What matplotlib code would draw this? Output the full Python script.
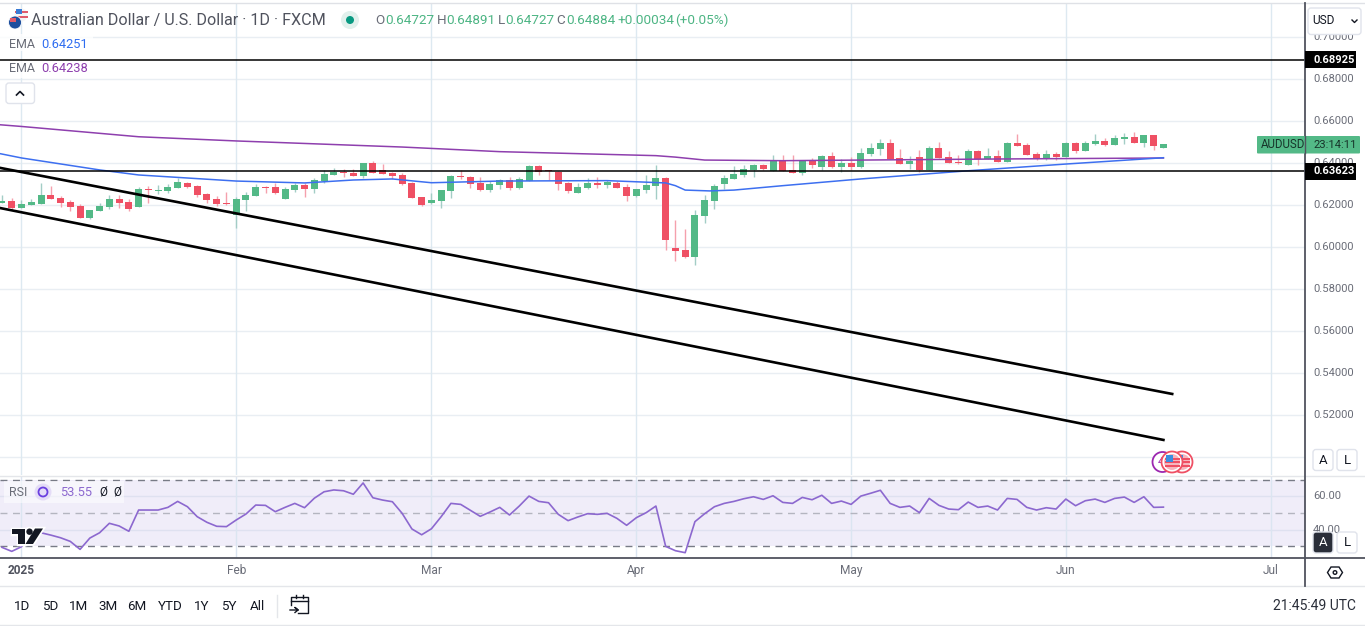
import numpy as np
import matplotlib
matplotlib.use("Agg")
import matplotlib.pyplot as plt
from matplotlib.patches import Rectangle, FancyBboxPatch, Circle, Polygon

plt.rcParams['font.family'] = ['Roboto', 'DejaVu Sans']

# candles, one per trading day, index 0 = 1 Jan 2025
days = np.arange(-2, 118)
opens = [.6210,.6219,.6188,.6200,.6205,.6248,.6232,.6215,.6196,.6139,.6172,.6191,.6229,.6213,.6192,.6277,.6265,.6267,.6283,.6305,.6291,.6253,.6229,.6210,
         .6153,.6224,.6243,.6286,.6286,.6229,.6270,.6295,.6276,.6313,.6343,.6359,.6352,.6338,.6400,.6367,.6352,.6343,.6305,.6239,
         .6210,.6220,.6267,.6339,.6334,.6305,.6272,.6296,.6320,.6281,.6315,.6386,.6366,.6358,.6305,.6258,.6281,.6305,.6296,.6305,.6286,
         .6243,.6272,.6291,.6329,.5996,.5986,.5953,.6148,.6220,.6301,.6324,.6343,.6367,.6391,.6362,.6410,.6367,.6353,.6410,.6381,.6434,.6381,
         .6400,.6381,.6443,.6467,.6495,.6424,.6396,.6429,.6367,.6472,.6429,.6405,.6391,.6457,.6419,.6434,.6405,.6495,.6486,.6443,.6424,.6443,
         .6429,.6495,.6457,.6491,.6505,.6486,.6515,.6524,.6495,.6534,.64727]
highs = [.6248,.6232,.6224,.6229,.6304,.6291,.6243,.6224,.6203,.6178,.6208,.6248,.6248,.6229,.6288,.6292,.6296,.6300,.6329,.6308,.6296,.6259,.6243,.6261,
         .6237,.6261,.6300,.6290,.6306,.6287,.6306,.6306,.6330,.6367,.6375,.6370,.6371,.6402,.6410,.6395,.6355,.6351,.6308,.6239,
         .6259,.6272,.6343,.6367,.6339,.6334,.6313,.6324,.6334,.6334,.6391,.6391,.6367,.6362,.6308,.6305,.6329,.6334,.6320,.6313,.6300,
         .6277,.6343,.6391,.6334,.6129,.6086,.6177,.6248,.6300,.6343,.6386,.6391,.6396,.6396,.6439,.6439,.6439,.6413,.6424,.6438,.6453,.6419,
         .6429,.6472,.6495,.6515,.6515,.6467,.6434,.6462,.6481,.6500,.6457,.6438,.6467,.6462,.6472,.6462,.6500,.6538,.6495,.6453,.6462,.6453,
         .6499,.6499,.6505,.6538,.6519,.6534,.6543,.6548,.6534,.6534,.64891]
lows = [.6208,.6181,.6185,.6199,.6204,.6227,.6192,.6173,.6137,.6134,.6170,.6183,.6188,.6169,.6192,.6211,.6251,.6259,.6281,.6280,.6240,.6208,.6197,.6200,
        .6089,.6173,.6243,.6259,.6252,.6229,.6263,.6240,.6259,.6306,.6343,.6335,.6338,.6329,.6352,.6348,.6322,.6295,.6234,.6197,
        .6207,.6186,.6234,.6324,.6281,.6267,.6262,.6277,.6272,.6277,.6315,.6343,.6320,.6272,.6258,.6258,.6277,.6281,.6281,.6281,.6220,
        .6239,.6258,.6229,.5986,.5934,.5948,.5915,.6115,.6182,.6277,.6324,.6334,.6334,.6367,.6362,.6362,.6353,.6343,.6376,.6367,.6376,.6356,
        .6367,.6376,.6434,.6438,.6419,.6396,.6372,.6357,.6367,.6424,.6400,.6396,.6391,.6391,.6419,.6405,.6405,.6481,.6438,.6415,.6415,.6415,
        .6429,.6449,.6457,.6486,.6481,.6486,.6491,.6495,.6476,.6462,.64727]
closes = [.6219,.6188,.6205,.6215,.6248,.6229,.6211,.6192,.6139,.6177,.6196,.6227,.6210,.6181,.6277,.6272,.6270,.6284,.6310,.6286,.6248,.6224,.6205,.6205,
          .6229,.6248,.6286,.6281,.6256,.6276,.6295,.6276,.6319,.6346,.6359,.6352,.6338,.6400,.6352,.6348,.6338,.6300,.6234,.6201,
          .6224,.6272,.6339,.6334,.6301,.6272,.6301,.6320,.6281,.6324,.6386,.6358,.6361,.6301,.6267,.6286,.6305,.6296,.6310,.6281,.6243,
          .6277,.6296,.6329,.6034,.5982,.5953,.6153,.6224,.6291,.6329,.6348,.6372,.6391,.6372,.6410,.6362,.6353,.6410,.6391,.6434,.6381,.6400,
          .6381,.6448,.6472,.6495,.6419,.6396,.6410,.6367,.6472,.6424,.6400,.6400,.6457,.6419,.6434,.6405,.6495,.6481,.6438,.6424,.6443,.6429,
          .6495,.6457,.6495,.6505,.6486,.6519,.6524,.6495,.6534,.6481,.64884]

# EMA lines read at the places where they bend
ema_fast_x = [-3, 0, 8, 12, 22, 29, 34, 38, 42, 49, 60, 66, 67, 68, 70.5, 73, 78, 80, 86, 97, 107, 117]
ema_fast = [.6452, .6424, .6367, .6343, .6314, .6305, .6319, .6324, .6306, .6314, .6316, .6305, .6292, .6271, .6267, .6271, .6292, .6300, .6324, .6363, .6395, .64251]
ema_slow_x = [-3, 0, 12, 22, 39, 49, 65, 67, 70, 78, 100, 117]
ema_slow = [.6585, .6574, .6525, .6505, .6476, .6454, .6435, .6428, .6414, .6411, .6419, .64238]

# RSI close per day
rsi = [29.3,26.9,29.7,36.0,38.1,36.7,35.1,32.9,28.1,34.9,38.1,43.8,42.2,39.0,51.8,51.8,51.8,53.4,57.0,53.8,47.8,44.4,42.0,41.8,
       45.8,49.4,54.8,54.6,50.8,53.4,55.8,53.2,58.9,62.8,63.9,63.4,61.3,68.1,59.2,57.8,56.8,49.8,40.4,36.9,
       40.5,47.8,55.8,55.2,51.6,48.0,50.6,53.4,48.8,54.2,60.2,57.0,56.2,49.2,45.4,47.6,49.6,49.2,49.8,46.8,42.6,
       47.2,50.2,54.2,29.9,27.3,26.1,44.8,49.6,53.8,55.8,57.0,58.6,59.8,58.2,60.4,56.4,55.8,59.4,58.0,60.7,55.8,57.2,
       55.2,60.2,61.9,63.7,55.8,53.4,54.2,50.2,58.8,54.6,52.4,52.0,56.6,53.4,54.2,51.8,58.8,58.2,53.4,51.8,53.2,52.4,
       58.4,54.4,57.4,58.4,56.4,58.8,59.6,56.4,59.8,53.4,53.55]

month_days = [0, 22, 42, 63, 85, 107, 128]
month_labels = ['2025', 'Feb', 'Mar', 'Apr', 'May', 'Jun', 'Jul']
price_ticks = [.50, .52, .54, .56, .58, .60, .62, .64, .66, .68, .70]
rsi_ticks = [40, 60]
hlines = [.68925, .63623]
trend_upper_x, trend_upper = [-3, 117.9], [.6384, .5300]
trend_lower_x, trend_lower = [-3, 117], [.6193, .5081]
range_buttons = ['1D', '5D', '1M', '3M', '6M', 'YTD', '1Y', '5Y', 'All']
range_x = [22, 50, 79, 108, 137, 170, 202, 229, 257]

GREEN, RED = '#53b987', '#ef5064'
GREEN_W, RED_W = '#a3cdc6', '#f5a0ad'
GRID = '#e9eef3'
VGRID = '#dde9f1'
TXT = '#6a6d78'
DARK = '#131722'
W, H = 1365, 626

fig = plt.figure(figsize=(W / 100, H / 100), dpi=100, facecolor='white')


def pane(top, bottom):
    return fig.add_axes([0, 1 - bottom / H, 1305 / W, (bottom - top) / H])


xlim = (-21.5 / 9.76, (1305 - 21.5) / 9.76)

# price pane
ax = pane(3, 475)
ax.set_xlim(*xlim)
ax.set_ylim(.4914, .7162)
ax.axis('off')
for p in price_ticks:
    ax.axhline(p, color=GRID, lw=1, zorder=0)
for d in month_days:
    ax.axvline(d, color=VGRID, lw=1, zorder=0)
o, h, l, c = map(np.array, (opens, highs, lows, closes))
up = c >= o
ax.vlines(days[up], l[up], h[up], color=GREEN_W, lw=1, zorder=2)
ax.vlines(days[~up], l[~up], h[~up], color=RED_W, lw=1, zorder=2)
ax.bar(days[up], (c - o)[up], bottom=o[up], width=.72, color=GREEN, zorder=3)
ax.bar(days[~up], (o - c)[~up], bottom=c[~up], width=.72, color=RED, zorder=3)
ax.plot(ema_slow_x, ema_slow, color='#8e3fae', lw=1.1, zorder=4)
ax.plot(ema_fast_x, ema_fast, color='#3d6ff0', lw=1.1, zorder=4)
ax.plot(trend_upper_x, trend_upper, color='black', lw=1.9, zorder=5)
ax.plot(trend_lower_x, trend_lower, color='black', lw=1.9, zorder=5)
for p in hlines:
    ax.axhline(p, color='black', lw=1.1, zorder=5)

# rsi pane
ax2 = pane(476, 558)
ax2.set_xlim(*xlim)
ax2.set_ylim(22.9, 72.3)
ax2.axis('off')
ax2.axhspan(30, 70, color='#f0edf9', lw=0, zorder=0)
for r in rsi_ticks:
    ax2.axhline(r, color='#dfe1f0', lw=1, zorder=1)
for d in month_days:
    ax2.axvline(d, color='#dbe5f1', lw=1, zorder=1)
ax2.axhline(70, color='#787b86', lw=1, ls=(0, (5, 4)), zorder=2)
ax2.axhline(50, color='#b4b5c0', lw=1, ls=(0, (5, 4)), zorder=2)
ax2.axhline(30, color='#787b86', lw=1, ls=(0, (5, 4)), zorder=2)
ax2.plot(days, rsi, color='#8c68cf', lw=1.2, zorder=3)

# everything around the panes, in screen pixels
ui = fig.add_axes([0, 0, 1, 1])
ui.set_xlim(0, W)
ui.set_ylim(H, 0)
ui.axis('off')
ui.patch.set_alpha(0)


def label(x, y, s, color=TXT, size=9, ha='left', weight='normal', z=20):
    ui.text(x, y, s, color=color, fontsize=size, ha=ha, va='center', weight=weight, zorder=z)


def button(x0, y0, x1, y1, face='white', edge='#e0e3eb', z=15):
    ui.add_patch(FancyBboxPatch((x0 + 3, y0 + 3), x1 - x0 - 6, y1 - y0 - 6, boxstyle='round,pad=3',
                                fc=face, ec=edge, lw=1, zorder=z))


# pane borders
ui.plot([0, W], [3, 3], color='#dfe1e6', lw=1)
ui.plot([0, W], [475.5, 475.5], color='#e4e6ea', lw=1)
ui.plot([0, W], [558, 558], color='#50535e', lw=1.3)
ui.plot([0, W], [586, 586], color='#e4e6ea', lw=1)
ui.plot([0, W], [625, 625], color='#e4e6ea', lw=1)
ui.plot([1304.5, 1304.5], [3, 586], color='#50535e', lw=1.3, zorder=12)

# right price scale, behind the buttons and tags that cover parts of it
for p in price_ticks[1:]:
    label(1313, 79 + (.68 - p) * 2100, '%.5f' % p, size=8.1, z=10)
for r in rsi_ticks:
    label(1313, 513 - (r - 50) * 1.66, '%.2f' % r, size=8.1, z=10)
button(1308, 8, 1361, 34.5)
label(1312, 21, 'USD', color=DARK, size=8.6)
ui.plot([1352, 1354.5, 1357], [20, 22.5, 20], color=DARK, lw=1, zorder=20)
for yy, s in zip([59.6, 171.3], ['0.68925', '0.63623']):
    ui.add_patch(Rectangle((1305, yy - 8.5), 51, 17, fc='black', ec='none', zorder=16))
    label(1313, yy, s, color='white', size=8, weight='bold')
ui.add_patch(FancyBboxPatch((1258, 137), 101, 15.5, boxstyle='round,pad=1', fc=GREEN, ec='none', zorder=15))
ui.plot([1304.5, 1304.5], [136, 153], color='#50535e', lw=1, zorder=16)
label(1261, 145, 'AUDUSD', color='#17352a', size=8.3)
label(1313, 145, '23:14:11', color='#17352a', size=8.1)

# time scale
for d, s in zip(month_days, month_labels):
    xx = 21.5 + 9.76 * d
    if s == '2025':
        label(8, 570, s, color='#50535e', size=8.6, weight='bold')
    else:
        label(xx, 570.5, s, ha='center', size=8.6)
for xx, yy, s, on in [(1323, 460, 'A', False), (1347, 460, 'L', False), (1323, 542.5, 'A', True), (1347, 542.5, 'L', False)]:
    button(xx - 10, yy - 10.5, xx + 10, yy + 10.5, face='#2a2e39' if on else 'white')
    label(xx, yy, s, color='white' if on else DARK, size=9.5, ha='center')
ui.add_patch(Polygon([[1331, 567], [1339, 567], [1342.5, 572.5], [1339, 578], [1331, 578], [1327.5, 572.5]],
                     fc='white', ec=DARK, lw=1, zorder=20))
ui.add_patch(Circle((1335, 572.5), 1.8, fc='white', ec=DARK, lw=1, zorder=21))

# bottom toolbar
for xx, s in zip(range_x, range_buttons):
    label(xx, 606, s, color=DARK, size=9.6, ha='center')
ui.plot([276.5, 276.5], [595, 617], color='#e4e6ea', lw=1)
ui.plot([291, 291, 308, 308, 298], [605, 597, 597, 613, 613], color=DARK, lw=1, zorder=20)
ui.plot([291, 308], [601, 601], color=DARK, lw=1, zorder=20)
ui.plot([296, 296], [595, 598], color=DARK, lw=1, zorder=20)
ui.plot([303, 303], [595, 598], color=DARK, lw=1, zorder=20)
ui.plot([290, 298, 295, 298, 295], [610, 610, 607.5, 610, 612.5], color=DARK, lw=1, zorder=20)
label(1356, 606, '21:45:49 UTC', color='#2a2e39', size=10, ha='right')

# header legend
ui.add_patch(Circle((21, 15), 6.5, fc='#f4f4f4', ec='none', zorder=18))
ui.add_patch(Rectangle((15, 11), 13, 2, fc='#e05a6a', ec='none', zorder=18))
ui.add_patch(Rectangle((15, 15.5), 13, 2, fc='#e05a6a', ec='none', zorder=18))
ui.add_patch(Rectangle((16, 9), 6, 5, fc='#3a7bd5', ec='none', zorder=19))
ui.add_patch(Circle((15, 22.5), 6.5, fc='#1d4e9e', ec='white', lw=.6, zorder=20))
ui.add_patch(Rectangle((10, 17.5), 5.5, 4.5, fc='#e05a6a', ec='none', zorder=21))
label(31, 20.5, 'Australian Dollar / U.S. Dollar · 1D · FXCM', color='#50535e', size=11.6)
ui.add_patch(Circle((350, 20), 9, fc='#e1f0ec', ec='none', zorder=18))
ui.add_patch(Circle((350, 20), 4, fc='#089981', ec='none', zorder=19))
LEG = '#4db584'
for xx, xv, key, val in [(375, 385, 'O', '0.64727'), (436.5, 446.5, 'H', '0.64891'),
                         (498, 505, 'L', '0.64727'), (556.5, 566, 'C', '0.64884')]:
    label(xx, 20.5, key, size=9.7)
    label(xv, 20.5, val, color=LEG, size=9.7)
label(617, 20.5, '+0.00034', color=LEG, size=9.7)
label(675, 20.5, '(+0.05%)', color=LEG, size=9.7)

# indicator rows
ui.add_patch(Rectangle((0, 34), 93, 17, fc='white', alpha=.8, ec='none', zorder=14))
ui.add_patch(Rectangle((0, 61), 93, 17, fc='white', alpha=.8, ec='none', zorder=14))
label(9, 44.5, 'EMA', size=9)
label(41, 44.5, '0.64251', color='#2f6df0', size=9.3)
label(9, 68.5, 'EMA', size=9)
label(41, 68.5, '0.64238', color='#8e3fae', size=9.3)
button(6, 83, 34.5, 103.5)
ui.plot([16.5, 20, 23.5], [95, 91.5, 95], color=DARK, lw=1.2, zorder=20)

# rsi legend
ui.add_patch(Rectangle((4, 481), 120, 22, fc='white', alpha=.5, ec='none', zorder=14))
label(9, 492, 'RSI', size=9)
ui.add_patch(Circle((43, 492), 8.5, fc='#e4dcf7', ec='none', zorder=18))
ui.add_patch(Circle((43, 492), 4.5, fc='none', ec='#6a3fe0', lw=1.3, zorder=19))
label(60, 492, '53.55', color='#8c68cf', size=9.3)
label(99, 492, 'Ø', color=DARK, size=8.5)
label(113, 492, 'Ø', color=DARK, size=8.5)

# logo
for fc, ec, lw, z in [('white', 'white', 2.5, 17), (DARK, 'none', 0, 18)]:
    ui.add_patch(Polygon([[12, 529], [25, 529], [25, 544], [17.5, 544], [17.5, 534], [12, 534]], fc=fc, ec=ec, lw=lw, zorder=z))
    ui.add_patch(Circle((29.5, 531.7), 3.2, fc=fc, ec=ec, lw=lw, zorder=z))
    ui.add_patch(Polygon([[35, 528.5], [43, 528.5], [33, 544], [25.5, 544]], fc=fc, ec=ec, lw=lw, zorder=z))

# event marks
ui.add_patch(Circle((1162.5, 462), 10, fc='white', ec='#9c27b0', lw=1.3, zorder=16))
label(1158, 462, '4', color='#9c27b0', size=8, z=16)
for xx, z in [(1182, 17), (1172, 18)]:
    ui.add_patch(Circle((xx, 462), 10.5, fc='white', ec='#ef5064', lw=1.3, zorder=z))
    ui.add_patch(Circle((xx, 462), 8, fc='#f7b5bd', ec='none', zorder=z))
    for yy in (457.5, 461, 464.5):
        ui.add_patch(Rectangle((xx - 7.5, yy), 15, 2.2, fc='#ef5064', ec='none', zorder=z))
    ui.add_patch(Rectangle((xx - 6.5, 455), 7, 6.5, fc='#3a8ee0', ec='none', zorder=z))

fig.savefig('out.png', dpi=100)
